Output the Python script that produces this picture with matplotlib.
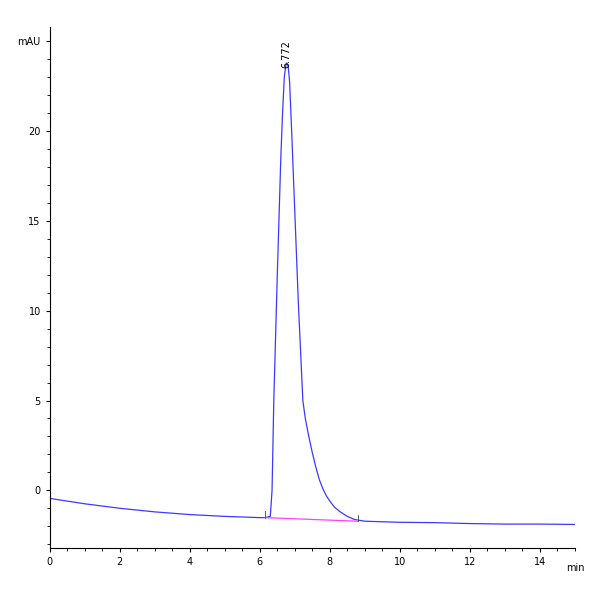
import matplotlib
matplotlib.use("Agg")
import matplotlib.pyplot as plt
import numpy as np

# chromatogram trace (min, mAU)
time = [0.0, 1.0, 2.0, 3.0, 4.0, 5.0, 6.0, 6.15, 6.3, 6.35, 6.40, 6.5, 6.6, 6.65,
        6.7, 6.74, 6.772, 6.81, 6.85, 6.91, 7.0, 7.1, 7.23, 7.3, 7.4, 7.5, 7.6,
        7.7, 7.8, 7.9, 8.0, 8.14, 8.3, 8.5, 8.7, 9.0, 10.0, 11.0, 12.0, 13.0,
        14.0, 15.0]
signal = [-0.45, -0.75, -1.0, -1.2, -1.35, -1.45, -1.52, -1.52, -1.45, 0.0, 5.0,
          12.0, 18.5, 21.0, 23.0, 23.65, 23.8, 23.6, 22.8, 20.0, 15.5, 10.5, 5.0,
          4.0, 3.0, 2.1, 1.3, 0.6, 0.1, -0.3, -0.6, -0.95, -1.2, -1.45, -1.62,
          -1.72, -1.78, -1.8, -1.85, -1.88, -1.88, -1.9]

# integration baseline
base_t = [6.15, 8.8]
base_y = [-1.52, -1.72]
peak_rt = 6.772
peak_h = 23.8

fig = plt.figure(figsize=(6, 6), dpi=100)
ax = fig.add_axes([0.083, 0.087, 0.875, 0.868])
ax.plot(time, signal, color="#3a3aff", lw=0.9)
ax.plot(base_t, base_y, color="#ff40ff", lw=0.9)
for t, yv in zip(base_t, base_y):
    ax.plot([t, t], [yv, yv + 0.35], color="#444444", lw=0.6)
ax.text(peak_rt, peak_h - 0.3, f"{peak_rt:.3f}", rotation=90, ha="center",
        va="bottom", fontsize=7)

ax.set_xlim(0, 15)
ax.set_ylim(-3.2, 25.8)
for s in ("top", "right"):
    ax.spines[s].set_visible(False)
ax.set_xticks([0, 2, 4, 6, 8, 10, 12, 14])
ax.set_xticks(np.arange(0, 15.01, 0.5), minor=True)
ax.set_yticks([0, 5, 10, 15, 20, 25])
ax.set_yticklabels(["0", "5", "10", "15", "20", "mAU"])
ax.set_yticks(np.arange(-3, 25.5, 1), minor=True)
ax.tick_params(labelsize=7, length=3)
ax.tick_params(which="minor", length=2)
ax.text(14.75, -4.05, "min", fontsize=7, ha="left", va="top", clip_on=False)
fig.savefig("out.png", dpi=100)
